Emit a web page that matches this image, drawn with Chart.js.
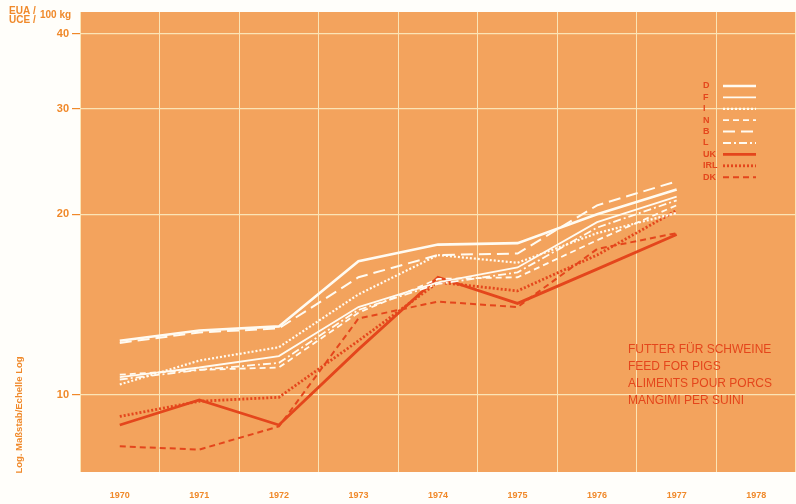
<!DOCTYPE html>
<html>
<head>
<meta charset="utf-8">
<script src="https://cdn.jsdelivr.net/npm/chart.js@4/dist/chart.umd.min.js"></script>
<style>
  html, body { margin: 0; padding: 0; background: #fffefa; }
  #wrap { width: 796px; height: 504px; }
</style>
</head>
<body>
<div id="wrap"><canvas id="feedChart" width="796" height="504"></canvas></div>
<script>
// values (EUA/UCE per 100 kg)
const years = ['1970', '1971', '1972', '1973', '1974', '1975', '1976', '1977', '1978'];
const seriesD = [12.3, 12.8, 13.0, 16.7, 17.8, 17.9, 20.0, 22.0, null];
const seriesF = [10.7, 11.1, 11.6, 14.0, 15.4, 16.3, 19.4, 21.4, null];
const seriesI = [10.4, 11.4, 12.0, 14.7, 17.1, 16.6, 18.6, 20.1, null];
const seriesN = [10.8, 11.0, 11.1, 13.7, 15.6, 15.7, 18.1, 20.7, null];
const seriesB = [12.2, 12.7, 12.9, 15.7, 17.1, 17.2, 20.7, 22.7, null];
const seriesL = [10.6, 11.0, 11.3, 13.85, 15.3, 16.0, 19.0, 21.1, null];
const seriesUK = [8.9, 9.8, 8.9, 11.9, 15.7, 14.2, 16.2, 18.5, null];
const seriesIRL = [9.2, 9.75, 9.9, 12.3, 15.4, 14.9, 17.1, 20.3, null];
const seriesDK = [8.2, 8.1, 8.85, 13.4, 14.3, 14.0, 17.5, 18.6, null];
const yTicks = [10, 20, 30, 40];
const titleLines = ['FUTTER FÜR SCHWEINE', 'FEED FOR PIGS', 'ALIMENTS POUR PORCS', 'MANGIMI PER SUINI'];

const WHITE = '#fffbf2';
const RED = '#e4461c';
const ORANGE_TEXT = '#f0892a';
const PLOT_BG = '#f3a35d';
const GRID = '#fbe4b6';
const narrow = "'Liberation Sans Narrow', 'Liberation Sans', Arial, sans-serif";

function line(label, data, color, width, dash) {
    return {
        label: label,
        data: data,
        borderColor: color,
        borderWidth: width,
        borderDash: dash,
        pointRadius: 0,
        tension: 0,
        fill: false,
        spanGaps: false
    };
}

// orange plot area behind everything
const plotBackground = {
    id: 'plotBackground',
    beforeDraw(chart) {
        const { ctx, chartArea } = chart;
        ctx.save();
        ctx.fillStyle = PLOT_BG;
        ctx.fillRect(chartArea.left, chartArea.top, chartArea.right - chartArea.left, chartArea.bottom - chartArea.top);
        ctx.restore();
    }
};

// axis unit, rotated note, legend and chart title
const annotations = {
    id: 'annotations',
    afterDraw(chart) {
        const ctx = chart.ctx;
        ctx.save();

        ctx.fillStyle = ORANGE_TEXT;
        ctx.textBaseline = 'middle';
        ctx.textAlign = 'left';
        ctx.font = 'bold 10px ' + narrow;
        ctx.fillText('EUA /', 9, 11);
        ctx.fillText('UCE /', 9, 20);
        ctx.fillText('100 kg', 40, 15);

        ctx.save();
        ctx.translate(19, 415);
        ctx.rotate(-Math.PI / 2);
        ctx.textAlign = 'center';
        ctx.font = 'bold 9.5px ' + narrow;
        ctx.fillText('Log. Maßstab/Echelle Log', 0, 0);
        ctx.restore();

        // legend
        ctx.font = 'bold 9px ' + narrow;
        chart.data.datasets.forEach((ds, i) => {
            const y = 86 + i * 11.4;
            ctx.fillStyle = RED;
            ctx.textAlign = 'left';
            ctx.fillText(ds.label, 703, y);
            ctx.strokeStyle = ds.borderColor;
            ctx.lineWidth = ds.borderWidth;
            ctx.setLineDash(ds.borderDash || []);
            ctx.beginPath();
            ctx.moveTo(723, y);
            ctx.lineTo(756, y);
            ctx.stroke();
        });
        ctx.setLineDash([]);

        // chart title
        ctx.fillStyle = RED;
        ctx.font = '12px ' + narrow;
        titleLines.forEach((t, i) => {
            ctx.fillText(t, 628, 350 + i * 17);
        });

        ctx.restore();
    }
};

const ctx = document.getElementById('feedChart').getContext('2d');
new Chart(ctx, {
    type: 'line',
    data: {
        labels: years,
        datasets: [
            line('D', seriesD, WHITE, 2.6, []),
            line('F', seriesF, WHITE, 1.8, []),
            line('I', seriesI, WHITE, 2.2, [2, 2]),
            line('N', seriesN, WHITE, 1.8, [6, 4]),
            line('B', seriesB, WHITE, 2, [12, 6]),
            line('L', seriesL, WHITE, 1.8, [8, 3, 2, 3]),
            line('UK', seriesUK, RED, 2.8, []),
            line('IRL', seriesIRL, RED, 2.8, [2, 2]),
            line('DK', seriesDK, RED, 2, [6, 4])
        ]
    },
    options: {
        responsive: false,
        animation: false,
        devicePixelRatio: 1,
        layout: { padding: { top: 12, right: 0, left: 0, bottom: 0 } },
        plugins: {
            legend: { display: false },
            tooltip: { enabled: false }
        },
        scales: {
            x: {
                type: 'category',
                offset: true,
                grid: {
                    offset: true,
                    color: GRID,
                    lineWidth: 1,
                    drawTicks: false
                },
                border: { display: false },
                ticks: {
                    color: ORANGE_TEXT,
                    font: { family: narrow, size: 9, weight: 'bold' },
                    padding: 18,
                    maxRotation: 0,
                    autoSkip: false
                },
                afterFit(scale) { scale.height = 32; }
            },
            y: {
                type: 'logarithmic',
                min: 7.43,
                max: 43.5,
                afterBuildTicks(scale) {
                    scale.ticks = yTicks.map(v => ({ value: v }));
                },
                grid: {
                    color: GRID,
                    lineWidth: 1.2,
                    drawTicks: true,
                    tickLength: 8,
                    tickColor: ORANGE_TEXT,
                    tickWidth: 1.2
                },
                border: { display: false },
                ticks: {
                    color: ORANGE_TEXT,
                    font: { family: narrow, size: 11, weight: 'bold' },
                    padding: 3,
                    callback: v => String(v)
                },
                afterFit(scale) { scale.width = 80; }
            }
        }
    },
    plugins: [plotBackground, annotations]
});
</script>
</body>
</html>
